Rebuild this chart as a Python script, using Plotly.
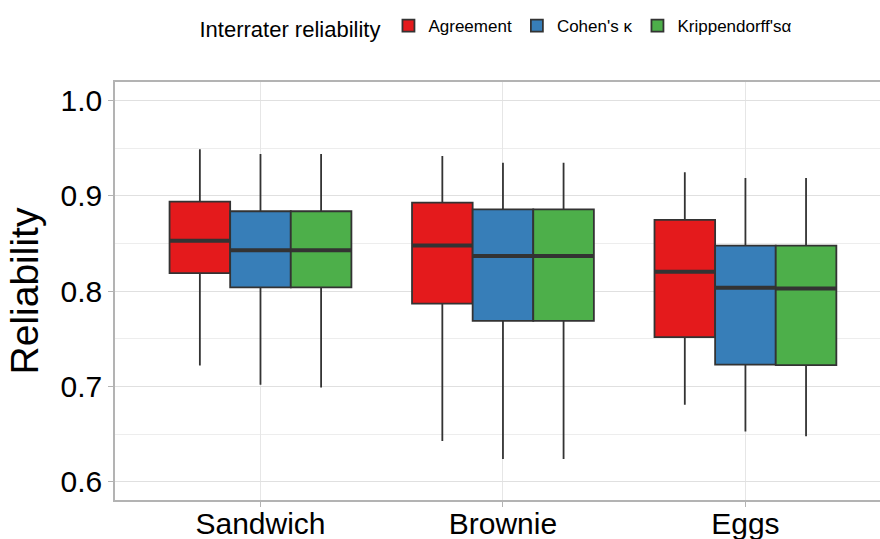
import plotly.graph_objects as go

# Recipes and reliability measures
categories = ["Sandwich", "Brownie", "Eggs"]
measures = ["Agreement", "Cohen's κ", "Krippendorff'sα"]
colors = ["#E41A1C", "#377EB8", "#4DAF4A"]

# Box statistics per measure, one value per recipe
lower = {
    "Agreement":       [0.722, 0.643, 0.681],
    "Cohen's κ":       [0.702, 0.624, 0.653],
    "Krippendorff'sα": [0.699, 0.624, 0.648],
}
q1 = {
    "Agreement":       [0.819, 0.787, 0.752],
    "Cohen's κ":       [0.804, 0.769, 0.723],
    "Krippendorff'sα": [0.804, 0.769, 0.7225],
}
median = {
    "Agreement":       [0.853, 0.848, 0.8205],
    "Cohen's κ":       [0.843, 0.837, 0.8037],
    "Krippendorff'sα": [0.843, 0.837, 0.803],
}
q3 = {
    "Agreement":       [0.894, 0.893, 0.875],
    "Cohen's κ":       [0.884, 0.886, 0.848],
    "Krippendorff'sα": [0.884, 0.886, 0.848],
}
upper = {
    "Agreement":       [0.949, 0.942, 0.925],
    "Cohen's κ":       [0.944, 0.935, 0.919],
    "Krippendorff'sα": [0.944, 0.935, 0.919],
}

box_w = 0.25
edge = "#333333"
font = "Liberation Sans, Arial, Helvetica, sans-serif"

fig = go.Figure()
for j, m in enumerate(measures):
    offset = (j - 1) * box_w
    xs = [i + offset for i in range(len(categories))]
    fig.add_trace(go.Box(
        name=m, x=xs, q1=q1[m], median=median[m], q3=q3[m],
        lowerfence=lower[m], upperfence=upper[m],
        width=box_w, whiskerwidth=0,
        fillcolor=colors[j], line=dict(color=edge, width=1.8),
        boxpoints=False, hoverinfo="skip", legendrank=j,
    ))
    # thicker median bars
    for x, med in zip(xs, median[m]):
        fig.add_trace(go.Scatter(
            x=[x - box_w / 2, x + box_w / 2], y=[med, med], mode="lines",
            line=dict(color=edge, width=4), showlegend=False, hoverinfo="skip",
        ))

fig.update_layout(
    width=880, height=539,
    margin=dict(l=115, r=0, t=82, b=39),
    paper_bgcolor="white", plot_bgcolor="white",
    font=dict(family=font, color="black"),
    showlegend=True,
    legend=dict(
        orientation="h", x=0.5, xanchor="center", y=1.13, yanchor="middle",
        title=dict(text="Interrater reliability", font=dict(size=22), side="left"),
        font=dict(size=17), itemwidth=30, traceorder="normal",
    ),
    xaxis=dict(
        range=[-0.6, 2.555], tickvals=list(range(len(categories))), ticktext=categories,
        tickfont=dict(size=30), showgrid=True, gridcolor="#e6e6e6", gridwidth=1,
        showline=True, linecolor="#b3b3b3", linewidth=1.5, mirror=True,
        ticks="outside", ticklen=5, tickcolor="#b3b3b3", zeroline=False,
        ticklabelstandoff=-9, automargin=False,
    ),
    yaxis=dict(
        range=[0.581, 1.0196], tickvals=[0.6, 0.7, 0.8, 0.9, 1.0],
        ticktext=["0.6", "0.7", "0.8", "0.9", "1.0"],
        tickfont=dict(size=30), showgrid=True, gridcolor="#e0e0e0", gridwidth=1,
        minor=dict(tickvals=[0.65, 0.75, 0.85, 0.95], showgrid=True,
                   gridcolor="#ededed", gridwidth=0.8, ticks=""),
        showline=True, linecolor="#b3b3b3", linewidth=1.5,
        ticks="outside", ticklen=5, tickcolor="#b3b3b3", zeroline=False,
        automargin=False,
        title=dict(text="Reliability", font=dict(size=39), standoff=10),
    ),
)

fig.write_html("out.html")
